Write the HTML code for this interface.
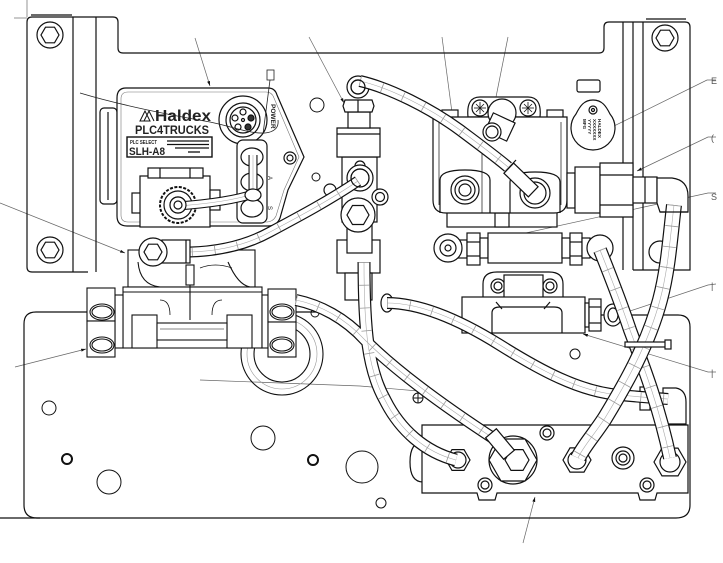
<!DOCTYPE html>
<html><head><meta charset="utf-8"><style>
html,body{margin:0;padding:0;background:#fff;}
svg{display:block;}
</style></head><body>
<svg width="723" height="563" viewBox="0 0 723 563" xmlns="http://www.w3.org/2000/svg" font-family="Liberation Sans, sans-serif">
<defs>
<marker id="ah" viewBox="0 0 10 10" refX="10" refY="5" markerWidth="7" markerHeight="7" orient="auto"><path d="M0,2 L10,5 L0,8 Z" fill="#111"/></marker>
<path id="t1" d="M360,81 C390,88 430,108 460,130 C480,145 495,156 508,167"/>
<path id="t2" d="M358,181 C330,200 300,216 270,232 C250,243 225,251 190,252"/>
<path id="t3" d="M178,206 C205,204 235,200 253,194 L253,155"/>
<path id="t4" d="M364,262 C364,330 368,370 385,400 C400,430 425,452 456,460"/>
<path id="t5" d="M296,300 C320,305 345,318 365,340 C400,375 450,410 496,440"/>
<path id="t6" d="M387,303 C420,303 460,320 500,345 C540,370 580,392 620,395 C640,397 655,398 668,399"/>
<path id="t7" d="M674,205 C670,240 668,270 660,300 C648,345 625,385 605,418 C594,435 583,447 578,458"/>
<path id="t8" d="M600,250 C610,275 620,300 630,330 C645,370 660,410 670,458"/>
</defs>

<!-- leader lines -->
<g fill="none" stroke="#666" stroke-width="0.7">
<line x1="27" y1="0" x2="27" y2="17"/>
<line x1="14" y1="18" x2="27" y2="18"/>
<line x1="195" y1="38" x2="210" y2="86" marker-end="url(#ah)"/>
<line x1="309" y1="37" x2="344" y2="103" marker-end="url(#ah)"/>
<line x1="442" y1="37" x2="460" y2="173" marker-end="url(#ah)"/>
<line x1="508" y1="37" x2="491" y2="122" marker-end="url(#ah)"/>
<polyline points="716,80 707,80 610,128" marker-end="url(#ah)"/>
<polyline points="716,137 708,137 637,171" marker-end="url(#ah)"/>
<polyline points="716,193 708,193 462,247" marker-end="url(#ah)"/>
<polyline points="716,284 708,285 615,316" marker-end="url(#ah)"/>
<polyline points="716,372 708,372 583,334" marker-end="url(#ah)"/>
<line x1="0" y1="203" x2="125" y2="253" marker-end="url(#ah)"/>
<line x1="15" y1="367" x2="86" y2="349" marker-end="url(#ah)"/>
<polyline points="200,380 360,386 430,392 497,440"/>
<line x1="523" y1="543" x2="535" y2="497" marker-end="url(#ah)"/>
<path d="M473,465 Q560,488 653,466"/>
</g>
<g font-size="9" fill="#555"><text x="711" y="84">E</text><text x="711" y="141">(</text><text x="711" y="200">S</text><text x="711" y="289">|</text><text x="711" y="376">|</text></g>

<!-- brackets / plate -->
<g fill="none" stroke="#111" stroke-width="1.2">
<path d="M88,272 L32,272 Q27,272 27,267 L27,22 Q27,17 32,17 L113,17 Q118,17 118,22 L118,48 Q118,53 123,53 L599,53 Q604,53 604,48 L604,27 Q604,22 609,22 L685,22 Q690,22 690,27 L690,270 L633,270"/>
<line x1="31" y1="15" x2="72" y2="15"/>
<line x1="73" y1="17" x2="73" y2="272"/>
<line x1="96" y1="17" x2="96" y2="272"/>
<line x1="623" y1="22" x2="623" y2="270"/>
<line x1="633" y1="22" x2="633" y2="270"/>
<line x1="643" y1="22" x2="643" y2="270"/>
<line x1="646" y1="19" x2="686" y2="19"/>
<path d="M87,312 L36,312 Q24,312 24,324 L24,505 Q24,518 37,518 L676,518 Q690,518 690,505 L690,327 Q690,315 678,315 L600,315"/>
<line x1="0" y1="518" x2="40" y2="518"/>
<line x1="295" y1="312" x2="340" y2="312"/>
<rect x="577" y="80" width="23" height="12" rx="2"/>
</g>

<!-- holes -->
<g fill="none" stroke="#111" stroke-width="1">
<circle cx="49" cy="408" r="7"/>
<circle cx="67" cy="459" r="5" stroke-width="2"/>
<circle cx="109" cy="482" r="12"/>
<circle cx="263" cy="438" r="12"/>
<circle cx="313" cy="460" r="5" stroke-width="2"/>
<circle cx="362" cy="467" r="16"/>
<circle cx="381" cy="503" r="5"/>
<circle cx="418" cy="398" r="5"/><line x1="418" y1="393" x2="418" y2="403"/><line x1="413" y1="398" x2="423" y2="398"/>
<circle cx="575" cy="354" r="5"/>
<circle cx="317" cy="105" r="7"/>
<circle cx="316" cy="177" r="4"/>
<circle cx="315" cy="313" r="4"/>
</g>

<!-- bolts -->
<g fill="#fff" stroke="#111" stroke-width="1.2">
<circle cx="50" cy="35" r="13"/><polygon points="59,35 54.5,42.8 45.5,42.8 41,35 45.5,27.2 54.5,27.2"/>
<circle cx="50" cy="250" r="13"/><polygon points="59,250 54.5,257.8 45.5,257.8 41,250 45.5,242.2 54.5,242.2"/>
<circle cx="665" cy="38" r="13"/><polygon points="674,38 669.5,45.8 660.5,45.8 656,38 660.5,30.2 669.5,30.2"/>
<circle cx="660" cy="252" r="11"/>
</g>

<!-- bottom manifold -->
<g fill="#fff" stroke="#111" stroke-width="1.2">
<path d="M423,442 Q410,442 410,462 Q410,482 423,482"/>
<path d="M422,425 L688,425 L688,493 L657,493 L655,500 L640,500 L638,493 L497,493 L495,500 L479,500 L477,493 L422,493 Z"/>
<circle cx="547" cy="433" r="7"/><circle cx="547" cy="433" r="4"/>
<circle cx="485" cy="485" r="7"/><circle cx="485" cy="485" r="4"/>
<circle cx="647" cy="485" r="7"/><circle cx="647" cy="485" r="4"/>
<polygon points="470,460 464,470.4 452,470.4 446,460 452,449.6 464,449.6"/><circle cx="458" cy="460" r="8"/>
<circle cx="513" cy="460" r="24"/>
<polygon points="537,460 525,481 501,481 489,460 501,439 525,439"/>
<polygon points="529,460 523,470.4 511,470.4 505,460 511,449.6 523,449.6"/>
<polygon points="591,460 584,472.1 570,472.1 563,460 570,447.9 584,447.9"/><circle cx="577" cy="460" r="9"/>
<circle cx="623" cy="458" r="11"/><circle cx="623" cy="458" r="7"/><circle cx="623" cy="458" r="4"/>
<polygon points="686,462 678,475.9 662,475.9 654,462 662,448.1 678,448.1"/><circle cx="670" cy="462" r="10"/>
</g>

<!-- loop coil -->
<g fill="none" stroke="#111" stroke-width="1.1">
<circle cx="282" cy="354" r="41"/>
<circle cx="282" cy="354" r="28"/>
<circle cx="282" cy="354" r="35" stroke="#999" stroke-width="0.6"/>
</g>

<!-- relay valve -->
<g fill="#fff" stroke="#111" stroke-width="1.1">
<rect x="128" y="250" width="127" height="37"/>
<path d="M138,262 Q140,285 160,287 M228,262 Q238,285 250,287" fill="none"/>
<path d="M200,268 Q215,262 232,268" fill="none" stroke-width="0.8"/>
<rect x="123" y="287" width="139" height="61"/>
<line x1="123" y1="292" x2="262" y2="292"/>
<line x1="190" y1="270" x2="190" y2="320"/>
<rect x="186" y="265" width="8" height="20"/>
<rect x="132" y="315" width="25" height="33"/>
<rect x="227" y="315" width="25" height="33"/>
<rect x="157" y="323" width="70" height="17"/>
<line x1="160" y1="329" x2="224" y2="329" stroke-width="0.6"/>
<path d="M160,300 Q170,300 170,315 M222,300 Q212,300 212,315" fill="none" stroke-width="0.8"/>
<rect x="115" y="295" width="8" height="53"/>
<rect x="262" y="295" width="6" height="53"/>
<rect x="87" y="288" width="28" height="33"/>
<rect x="87" y="321" width="28" height="36"/>
<ellipse cx="102" cy="312" rx="12" ry="8"/><ellipse cx="102" cy="312" rx="10" ry="6"/>
<ellipse cx="102" cy="345" rx="12" ry="8"/><ellipse cx="102" cy="345" rx="10" ry="6"/>
<rect x="268" y="289" width="28" height="33"/>
<rect x="268" y="322" width="28" height="35"/>
<ellipse cx="282" cy="312" rx="12" ry="8"/><ellipse cx="282" cy="312" rx="10" ry="6"/>
<ellipse cx="282" cy="345" rx="12" ry="8"/><ellipse cx="282" cy="345" rx="10" ry="6"/>
</g>

<!-- PLC box -->
<g fill="#fff" stroke="#111" stroke-width="1.2">
<rect x="100" y="108" width="17" height="96" rx="4"/>
<line x1="108" y1="112" x2="108" y2="200"/>
<path d="M126,88 L268,88 Q275,88 277,95 L304,157 L288,190 L280,218 Q277,226 268,226 L127,226 Q117,226 117,216 L117,98 Q117,88 126,88 Z"/>
<path d="M128,92 L266,92 Q272,92 274,98 L299,157 L284,190 L276,216 Q273,222 266,222 L128,222 Q121,222 121,215 L121,99 Q121,92 128,92 Z" stroke-width="0.6" stroke="#777"/>
<circle cx="290" cy="158" r="6"/><circle cx="290" cy="158" r="3"/>
<circle cx="243" cy="120" r="24" fill="none"/>
<circle cx="243" cy="120" r="17"/>
<circle cx="243" cy="120" r="13"/>
<circle cx="243" cy="112" r="3"/><circle cx="235" cy="118" r="3"/><circle cx="251" cy="118" r="3" fill="#333"/><circle cx="238" cy="127" r="3"/><circle cx="248" cy="127" r="3" fill="#333"/><circle cx="243" cy="120" r="1.5"/>
<rect x="237" y="140" width="30" height="83" rx="6"/>
<ellipse cx="252" cy="157" rx="11" ry="9"/>
<ellipse cx="252" cy="182" rx="11" ry="9"/>
<ellipse cx="252" cy="208" rx="11" ry="9"/>
<rect x="127" y="137" width="85" height="20" stroke-width="1.4"/>
<g stroke="#111" stroke-width="1.3"><line x1="167" y1="141" x2="209" y2="141"/><line x1="167" y1="144.5" x2="209" y2="144.5"/><line x1="175" y1="148" x2="209" y2="148"/><line x1="188" y1="152" x2="200" y2="152"/></g>
<path d="M140,121 L145,111 L150,121 Z M144,121 L149,111 L154,121" fill="none" stroke-width="1"/>
</g>
<g fill="#222">
<text x="155" y="121" font-size="16" font-weight="bold" textLength="56" lengthAdjust="spacingAndGlyphs">Haldex</text>
<text x="135" y="134" font-size="11.5" font-weight="bold" textLength="74" lengthAdjust="spacingAndGlyphs">PLC4TRUCKS</text>
<text x="130" y="144" font-size="5.5" font-weight="bold" textLength="27" lengthAdjust="spacingAndGlyphs">PLC SELECT</text>
<text x="129" y="155" font-size="11" font-weight="bold" textLength="36" lengthAdjust="spacingAndGlyphs">SLH-A8</text>
<text transform="translate(271,104) rotate(90)" font-size="6.5" font-weight="bold">POWER</text>
<text transform="translate(268,176) rotate(90)" font-size="6">A</text>
<text transform="translate(268,206) rotate(90)" font-size="6">S</text>
</g>
<!-- wires -->
<g fill="none" stroke="#222" stroke-width="0.8">
<path d="M80,93 C120,105 170,115 210,122 C230,126 250,134 265,133 C274,132 279,128 278,120"/>
<line x1="270" y1="80" x2="263" y2="134"/>
<rect x="267" y="70" width="7" height="10" fill="#fff"/>
</g>

<!-- solenoid -->
<g fill="#fff" stroke="#111" stroke-width="1.2">
<rect x="132" y="193" width="10" height="20"/>
<rect x="140" y="176" width="70" height="51"/>
<rect x="148" y="168" width="55" height="10"/>
<line x1="160" y1="168" x2="160" y2="178"/><line x1="190" y1="168" x2="190" y2="178"/>
<rect x="210" y="190" width="10" height="20"/>
<circle cx="178" cy="205" r="18" stroke-dasharray="3 1.5" stroke-width="2"/>
<circle cx="178" cy="205" r="14"/>
<circle cx="178" cy="205" r="8"/>
</g>

<!-- central column -->
<g fill="#fff" stroke="#111" stroke-width="1.2">
<rect x="337" y="240" width="43" height="33"/>
<rect x="345" y="273" width="27" height="27"/>
<rect x="342" y="157" width="35" height="65"/>
<path d="M337,128 L380,128 L380,157 L337,157 Z"/>
<line x1="337" y1="134" x2="380" y2="134"/>
<rect x="348" y="112" width="22" height="16"/>
<polygon points="345,100 372,100 374,106 372,112 345,112 343,106"/>
<line x1="358" y1="100" x2="358" y2="112"/>
<circle cx="358" cy="87" r="11"/><circle cx="358" cy="87" r="7"/>
<circle cx="360" cy="166" r="5"/>
<circle cx="330" cy="190" r="6"/>
<circle cx="380" cy="197" r="8"/><circle cx="380" cy="197" r="4.5"/>
<circle cx="360" cy="178" r="13"/><circle cx="360" cy="178" r="9"/>
<rect x="347" y="223" width="25" height="30"/>
<circle cx="358" cy="215" r="17"/>
<polygon points="369,215 363.5,224.5 352.5,224.5 347,215 352.5,205.5 363.5,205.5"/>
<ellipse cx="387" cy="303" rx="6" ry="9"/>
</g>

<!-- right top valve -->
<g fill="#fff" stroke="#111" stroke-width="1.2">
<rect x="447" y="207" width="110" height="20"/>
<rect x="495" y="213" width="14" height="14"/>
<rect x="442" y="110" width="16" height="10"/>
<rect x="547" y="110" width="16" height="10"/>
<path d="M468,117 Q466,97 480,97 L528,97 Q542,97 540,117 Z"/>
<path d="M433,117 L567,117 L567,200 Q567,213 554,213 L446,213 Q433,213 433,200 Z"/>
<line x1="439" y1="122" x2="439" y2="205" stroke-width="0.7"/>
<line x1="561" y1="122" x2="561" y2="205" stroke-width="0.7"/>
<line x1="482" y1="147" x2="482" y2="213" stroke-width="0.7"/>
<circle cx="480" cy="108" r="8"/>
<circle cx="528" cy="108" r="8"/>
<g stroke-width="0.8"><line x1="474" y1="108" x2="486" y2="108"/><line x1="480" y1="102" x2="480" y2="114"/><line x1="476" y1="104" x2="484" y2="112"/><line x1="484" y1="104" x2="476" y2="112"/>
<line x1="522" y1="108" x2="534" y2="108"/><line x1="528" y1="102" x2="528" y2="114"/><line x1="524" y1="104" x2="532" y2="112"/><line x1="532" y1="104" x2="524" y2="112"/></g>
<circle cx="502" cy="113" r="14"/>
<rect x="488" y="117" width="24" height="20" transform="rotate(25 500 127)"/>
<circle cx="492" cy="132" r="9"/><circle cx="492" cy="132" r="6"/>
<path d="M440,213 L440,180 Q440,170 465,170 Q490,170 490,180 L490,213" fill="none"/>
<path d="M510,213 L510,182 Q510,172 535,172 Q560,172 560,182 L560,213" fill="none"/>
<circle cx="465" cy="190" r="14"/><circle cx="465" cy="190" r="10"/><circle cx="465" cy="190" r="6"/>
<circle cx="535" cy="193" r="15"/><circle cx="535" cy="193" r="11"/>
<!-- tag -->
<path d="M593,100 C602,100 606,106 610,114 A22 22 0 1 1 576,114 C580,106 584,100 593,100 Z"/>
<circle cx="593" cy="110" r="4"/><circle cx="593" cy="110" r="1.5"/>
<!-- right fitting -->
<rect x="567" y="173" width="8" height="35"/>
<rect x="575" y="167" width="25" height="46"/>
<polygon points="600,163 633,163 633,217 600,217"/>
<line x1="600" y1="175" x2="633" y2="175"/><line x1="600" y1="205" x2="633" y2="205"/>
<rect x="633" y="177" width="24" height="26"/>
<line x1="645" y1="177" x2="645" y2="203"/>
<path d="M657,178 L672,178 Q688,180 688,196 L688,212 L660,212 L657,203 Z"/>
</g>
<g fill="#222" font-size="4.6" font-weight="bold">
<g transform="translate(593,132) rotate(90)">
<text x="-13" y="-5">HALDEX</text><text x="-13" y="0">XXXXXXX</text><text x="-13" y="5">YYYYY</text><text x="-13" y="10">MFG</text>
</g>
</g>

<!-- horizontal fitting -->
<g fill="#fff" stroke="#111" stroke-width="1.2">
<rect x="458" y="240" width="9" height="18"/>
<rect x="467" y="233" width="13" height="32"/>
<line x1="467" y1="242" x2="480" y2="242"/><line x1="467" y1="256" x2="480" y2="256"/>
<rect x="480" y="238" width="8" height="20"/>
<rect x="488" y="233" width="74" height="30"/>
<rect x="562" y="238" width="8" height="20"/>
<rect x="570" y="233" width="12" height="32"/>
<line x1="570" y1="242" x2="582" y2="242"/><line x1="570" y1="256" x2="582" y2="256"/>
<rect x="582" y="238" width="8" height="20"/>
<circle cx="448" cy="248" r="14"/><circle cx="448" cy="248" r="8"/><circle cx="448" cy="248" r="3"/>
<circle cx="600" cy="248" r="13"/>
</g>

<!-- lower valve -->
<g fill="#fff" stroke="#111" stroke-width="1.2">
<path d="M483,300 L483,284 Q483,272 497,272 L549,272 Q563,272 563,284 L563,300 Z"/>
<circle cx="498" cy="286" r="7"/><circle cx="498" cy="286" r="4"/>
<circle cx="550" cy="286" r="7"/><circle cx="550" cy="286" r="4"/>
<rect x="504" y="275" width="39" height="27"/>
<rect x="462" y="297" width="123" height="36"/>
<path d="M492,333 L492,313 Q492,307 500,307 L554,307 Q562,307 562,313 L562,333" fill="none"/>
<line x1="496" y1="302" x2="502" y2="309"/><line x1="550" y1="302" x2="544" y2="309"/>
<rect x="585" y="303" width="4" height="24"/>
<rect x="589" y="299" width="12" height="32"/>
<line x1="589" y1="307" x2="601" y2="307"/><line x1="589" y1="323" x2="601" y2="323"/>
<ellipse cx="613" cy="315" rx="9" ry="11"/><ellipse cx="613" cy="315" rx="5" ry="7"/>
<rect x="640" y="387" width="10" height="23"/>
<path d="M663,388 L676,388 Q686,390 686,402 L686,424 L663,424 Z"/>
</g>

<!-- tubes -->
<g fill="none" stroke-linecap="butt">
<g stroke="#111"><use href="#t5" stroke-width="12"/><use href="#t4" stroke-width="13"/></g>
<g stroke="#fff"><use href="#t5" stroke-width="9.6"/><use href="#t4" stroke-width="10.6"/></g>
<g stroke="#aaa" stroke-width="0.6"><use href="#t5"/><use href="#t4"/></g>
<g stroke="#999" stroke-dasharray="0.8 22"><use href="#t5" stroke-width="9"/><use href="#t4" stroke-width="10"/></g>

<g stroke="#111"><use href="#t1" stroke-width="12"/><use href="#t2" stroke-width="11"/><use href="#t3" stroke-width="9"/><use href="#t6" stroke-width="12"/></g>
<g stroke="#fff"><use href="#t1" stroke-width="9.6"/><use href="#t2" stroke-width="8.6"/><use href="#t3" stroke-width="6.8"/><use href="#t6" stroke-width="9.6"/></g>
<g stroke="#aaa" stroke-width="0.6"><use href="#t1"/><use href="#t2"/><use href="#t3"/><use href="#t6"/></g>
<g stroke="#999" stroke-dasharray="0.8 22"><use href="#t1" stroke-width="9"/><use href="#t2" stroke-width="8"/><use href="#t6" stroke-width="9"/></g>

<g stroke="#111"><use href="#t8" stroke-width="14"/></g>
<g stroke="#fff"><use href="#t8" stroke-width="11.6"/></g>
<g stroke="#aaa" stroke-width="0.6"><use href="#t8"/></g>
<g stroke="#999" stroke-dasharray="0.8 20"><use href="#t8" stroke-width="11"/></g>
<g stroke="#111"><use href="#t7" stroke-width="16"/></g>
<g stroke="#fff"><use href="#t7" stroke-width="13.6"/></g>
<g stroke="#aaa" stroke-width="0.6"><use href="#t7"/></g>
<g stroke="#999" stroke-dasharray="0.8 20"><use href="#t7" stroke-width="13"/></g>
</g>

<!-- tube end fittings on top -->
<g fill="#fff" stroke="#111" stroke-width="1.2">
<rect x="514" y="163" width="14" height="34" transform="rotate(-46 521 180)"/>
<line x1="505" y1="172" x2="516" y2="160"/>
<rect x="493" y="430" width="14" height="28" transform="rotate(-40 500 444)"/>
<circle cx="360" cy="178" r="9" fill="none"/>
<path d="M660,212 L688,212"/>
<rect x="625" y="342" width="42" height="5"/>
<rect x="665" y="340" width="6" height="9"/>
<circle cx="178" cy="205" r="8"/><circle cx="178" cy="205" r="4"/>
<ellipse cx="253" cy="195" rx="8" ry="6"/>
<circle cx="358" cy="87" r="7" fill="none"/>
</g>

<!-- relay elbow (over t2 end) -->
<g fill="#fff" stroke="#111" stroke-width="1.2">
<rect x="162" y="240" width="28" height="23"/>
<line x1="186" y1="240" x2="186" y2="263"/>
<circle cx="153" cy="252" r="14"/>
<polygon points="162,252 157.5,259.8 148.5,259.8 144,252 148.5,244.2 157.5,244.2"/>
</g>
</svg>
</body></html>
